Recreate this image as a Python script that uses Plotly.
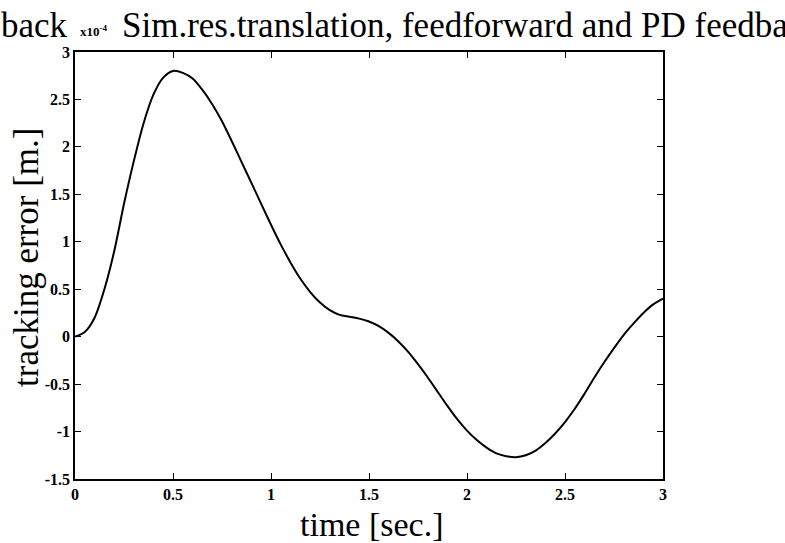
import plotly.graph_objects as go

# data (tracking error, units of 1e-4 m)
time_s = [0.0, 0.05, 0.1, 0.15, 0.2, 0.25, 0.3, 0.35, 0.4, 0.45, 0.5, 0.55, 0.6, 0.65, 0.7,
          0.75, 0.8, 0.85, 0.9, 0.95, 1.0, 1.05, 1.1, 1.15, 1.2, 1.25, 1.3, 1.35, 1.4, 1.45,
          1.5, 1.55, 1.6, 1.65, 1.7, 1.75, 1.8, 1.85, 1.9, 1.95, 2.0, 2.05, 2.1, 2.15, 2.2,
          2.25, 2.3, 2.35, 2.4, 2.45, 2.5, 2.55, 2.6, 2.65, 2.7, 2.75, 2.8, 2.85, 2.9, 2.95, 3.0]
error_e4 = [0.0, 0.05, 0.2, 0.5, 0.9, 1.4, 1.85, 2.25, 2.55, 2.73, 2.8, 2.78, 2.72, 2.6, 2.45,
            2.27, 2.06, 1.84, 1.62, 1.4, 1.18, 0.97, 0.78, 0.61, 0.47, 0.36, 0.28, 0.23, 0.21, 0.19,
            0.16, 0.11, 0.04, -0.05, -0.16, -0.29, -0.43, -0.58, -0.73, -0.87, -0.99, -1.09, -1.17, -1.23, -1.26,
            -1.27, -1.25, -1.2, -1.12, -1.02, -0.9, -0.76, -0.6, -0.43, -0.27, -0.12, 0.02, 0.14, 0.25, 0.34, 0.4]

x_ticks = [0, 0.5, 1, 1.5, 2, 2.5, 3]
x_ticklabels = ["0", "0.5", "1", "1.5", "2", "2.5", "3"]
y_ticks = [-1.5, -1, -0.5, 0, 0.5, 1, 1.5, 2, 2.5, 3]
y_ticklabels = ["-1.5", "-1", "-0.5", "0", "0.5", "1", "1.5", "2", "2.5", "3"]

title_left = "back"
title_exp = "x10<sup>-4</sup>"
title_main = "Sim.res.translation, feedforward and PD feedba"
x_title = "time [sec.]"
y_title = "tracking error [m.]"

W, H = 785, 543
L, R, T, B = 75, 122, 52, 64
pw, ph = W - L - R, H - T - B

def px(x):
    return (x - L) / pw

def py(y):
    return (H - B - y) / ph

serif = "Liberation Serif, Times New Roman, serif"

fig = go.Figure()
fig.add_trace(go.Scatter(x=time_s, y=error_e4, mode="lines",
                         line=dict(color="black", width=2, shape="spline", smoothing=0.8),
                         showlegend=False, hoverinfo="skip"))

axis_common = dict(showline=True, linecolor="black", linewidth=1.5, mirror="ticks", ticks="inside",
                   ticklen=6, tickwidth=1.3, tickcolor="black", showgrid=False, zeroline=False,
                   tickfont=dict(family=serif, size=16, color="black"))

fig.update_layout(
    width=W, height=H,
    margin=dict(l=L, r=R, t=T, b=B, autoexpand=False),
    paper_bgcolor="white", plot_bgcolor="white",
    xaxis=dict(range=[0, 3], tickvals=x_ticks, ticktext=["<b>%s</b>" % s for s in x_ticklabels],
               **axis_common),
    yaxis=dict(range=[-1.5, 3], tickvals=y_ticks, ticktext=["<b>%s</b>" % s for s in y_ticklabels],
               **axis_common),
    annotations=[
        dict(text=title_left, x=px(0), y=py(46), xref="paper", yref="paper", xanchor="left", yanchor="bottom",
             showarrow=False, borderpad=0, font=dict(family=serif, size=35, color="black")),
        dict(text="<b>%s</b>" % title_exp, x=px(79), y=py(40), xref="paper", yref="paper", xanchor="left",
             yanchor="bottom", showarrow=False, borderpad=0, font=dict(family=serif, size=13, color="black")),
        dict(text=title_main, x=px(121), y=py(46), xref="paper", yref="paper",
             xanchor="left", yanchor="bottom", showarrow=False, borderpad=0,
             font=dict(family=serif, size=35, color="black")),
        dict(text=x_title, x=px(372), y=py(524), xref="paper", yref="paper", xanchor="center", yanchor="middle",
             showarrow=False, borderpad=0, font=dict(family=serif, size=34, color="black")),
        dict(text=y_title, x=px(26), y=py(258), xref="paper", yref="paper", xanchor="center", yanchor="middle",
             textangle=-90, showarrow=False, font=dict(family=serif, size=35, color="black")),
    ],
)

fig.write_html("out.html")
